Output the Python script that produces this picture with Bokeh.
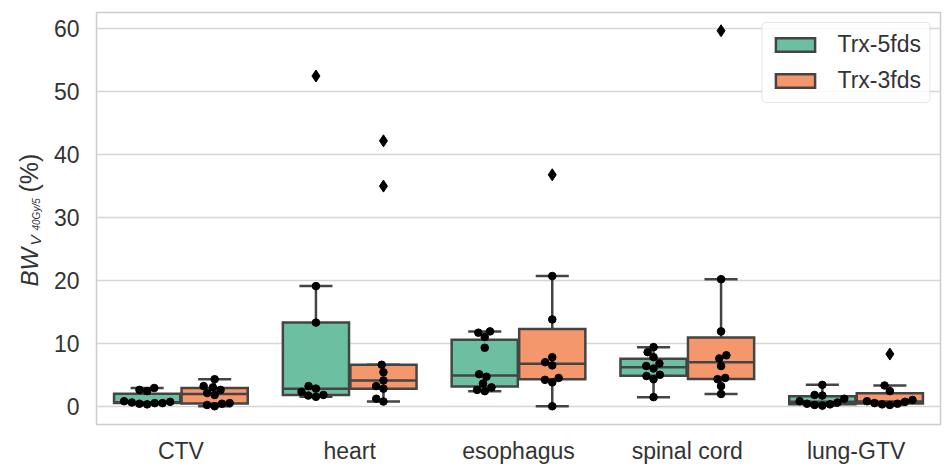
import numpy as np
from bokeh.plotting import figure
from bokeh.layouts import row
from bokeh.models import Range1d, FixedTicker, ColumnDataSource
from bokeh.core.properties import value
from bokeh.embed import file_html
from bokeh.resources import INLINE

# ---------------- data ----------------
categories = ["CTV", "heart", "esophagus", "spinal cord", "lung-GTV"]
series_names = ["Trx-5fds", "Trx-3fds"]
series_colors = ["#6cbfa0", "#f4976c"]

ctv_5fds = [0.3, 0.4, 0.5, 0.5, 0.6, 0.7, 0.8, 2.4, 2.6, 2.9]
ctv_3fds = [0.0, 0.2, 0.4, 0.5, 1.8, 2.1, 2.6, 3.0, 3.2, 4.3]
heart_5fds = [1.5, 1.7, 1.8, 2.3, 2.8, 3.2, 13.3, 19.1, 52.5]
heart_3fds = [0.75, 1.2, 2.8, 3.2, 4.1, 5.4, 6.6, 35.0, 42.2]
esoph_5fds = [2.4, 2.6, 3.0, 3.6, 4.7, 5.1, 9.3, 11.0, 11.7, 11.9]
esoph_3fds = [0.0, 3.8, 4.2, 4.5, 6.5, 7.0, 7.8, 13.8, 20.7, 36.8]
spinal_5fds = [1.45, 4.3, 4.8, 5.0, 6.0, 6.4, 6.8, 7.8, 8.6, 9.4]
spinal_3fds = [1.95, 3.2, 4.3, 4.5, 6.4, 7.6, 8.1, 11.9, 20.2, 59.7]
lung_5fds = [0.1, 0.2, 0.3, 0.4, 0.6, 0.8, 1.2, 1.7, 1.8, 3.4]
lung_3fds = [0.2, 0.3, 0.4, 0.5, 0.7, 0.8, 1.0, 2.4, 3.3, 8.3]

series_data = [
    [ctv_5fds, heart_5fds, esoph_5fds, spinal_5fds, lung_5fds],
    [ctv_3fds, heart_3fds, esoph_3fds, spinal_3fds, lung_3fds],
]
y_ticks = [0, 10, 20, 30, 40, 50, 60]

# ---------------- layout constants ----------------
FONT = "Liberation Sans"
TXT = "#333333"
EDGE = "#444444"
LAB_W = 50
FRAME_W, FRAME_H = 845, 412
ML, MR, MT, MB = 45, 3, 12, 44
W, H = ML + FRAME_W + MR, MT + FRAME_H + MB
x_lo, x_hi = -0.5, len(categories) - 0.5
y_lo, y_hi = -2.9, 62.6

# ---------------- y-axis title panel ----------------
# its frame is aligned with the main frame; ranges are in pixels (y measured from figure bottom)
lab = figure(width=LAB_W, height=H, x_range=Range1d(0, LAB_W), y_range=Range1d(MB, H - MT),
             x_axis_type=None, y_axis_type=None, output_backend="svg", toolbar_location=None,
             min_border_left=0, min_border_right=0, min_border_top=MT, min_border_bottom=MB)
lab.outline_line_color = None
lab.grid.grid_line_color = None
lab.background_fill_color = "white"
lab.border_fill_color = "white"
# BW_{V_{40Gy/5}} (%) : (text, x baseline px, y start px from bottom, size, style)
ylab_parts = [
    ("BW", 29, 182, "24px", "italic"),
    ("V", 35, 223, "15px", "italic"),
    ("40Gy/5", 36, 238, "10px", "italic"),
    ("(%)", 28, 276, "25px", "normal"),
]
for txt, lx, ly, fs, st in ylab_parts:
    lab.text(x=[lx], y=[ly], text=[txt], angle=np.pi / 2, text_align="left",
             text_baseline="alphabetic", text_font=value(FONT), text_font_size=value(fs),
             text_font_style=st, text_color=TXT)

# ---------------- main figure ----------------
p = figure(width=W, height=H, x_range=Range1d(x_lo, x_hi), y_range=Range1d(y_lo, y_hi),
           output_backend="svg", toolbar_location=None,
           min_border_left=ML, min_border_right=MR, min_border_top=MT, min_border_bottom=MB)
p.background_fill_color = "white"
p.border_fill_color = "white"
p.outline_line_color = "#cccccc"
p.outline_line_width = 1.5

p.xgrid.grid_line_color = None
p.ygrid.grid_line_color = "#d6d6d6"
p.ygrid.grid_line_width = 1.3

p.xaxis.ticker = FixedTicker(ticks=list(range(len(categories))))
p.xaxis.major_label_overrides = {i: c for i, c in enumerate(categories)}
p.yaxis.ticker = FixedTicker(ticks=y_ticks)
for ax in (p.xaxis, p.yaxis):
    ax.axis_line_color = None
    ax.major_tick_line_color = None
    ax.minor_tick_line_color = None
    ax.major_tick_out = 0
    ax.major_label_text_font = FONT
    ax.major_label_text_font_size = "23px"
    ax.major_label_text_color = TXT
p.xaxis.major_label_standoff = 13
p.yaxis.major_label_standoff = 17

# pixel scales (for swarm layout)
xs = FRAME_W / (x_hi - x_lo)
ys = FRAME_H / (y_hi - y_lo)
DOT = 7.6


def box_stats(v):
    v = np.asarray(v, float)
    q1, med, q3 = np.percentile(v, [25, 50, 75])
    iqr = q3 - q1
    lo = v[v >= q1 - 1.5 * iqr].min()
    hi = v[v <= q3 + 1.5 * iqr].max()
    out = v[(v < lo) | (v > hi)]
    inl = v[(v >= lo) & (v <= hi)]
    return q1, med, q3, lo, hi, out, inl


def swarm_offsets(vals):
    vals = np.asarray(vals, float)
    order = np.argsort(vals, kind="stable")
    placed = []
    offs = np.zeros(len(vals))
    d = DOT * 1.02
    for i in order:
        y = vals[i] * ys
        neigh = [(px, py) for px, py in placed if abs(py - y) < d]
        cands = [0.0]
        for px, py in neigh:
            dx = np.sqrt(max(d * d - (py - y) ** 2, 0.0))
            cands += [px + dx, px - dx]
        cands = sorted(cands, key=lambda c: (abs(c), c))
        chosen = cands[-1]
        for c in cands:
            if all((c - px) ** 2 + (y - py) ** 2 >= d * d - 1e-6 for px, py in neigh):
                chosen = c
                break
        placed.append((chosen, y))
        offs[i] = chosen
    return offs / xs


n_s = len(series_names)
box_w = 0.8 / n_s * 0.98
for j, (name, color, data) in enumerate(zip(series_names, series_colors, series_data)):
    xc = [i - 0.4 + 0.8 / n_s * (j + 0.5) for i in range(len(categories))]
    q1s, meds, q3s, los, his = [], [], [], [], []
    dot_x, dot_y, out_x, out_y = [], [], [], []
    for x0, vals in zip(xc, data):
        q1, med, q3, lo, hi, out, inl = box_stats(vals)
        q1s.append(q1); meds.append(med); q3s.append(q3); los.append(lo); his.append(hi)
        offs = swarm_offsets(inl)
        dot_x += list(x0 + offs); dot_y += list(inl)
        out_x += [x0] * len(out); out_y += list(out)
    src = ColumnDataSource(dict(x=xc, q1=q1s, med=meds, q3=q3s, lo=los, hi=his,
                                xl=[x - box_w / 2 for x in xc], xr=[x + box_w / 2 for x in xc],
                                cl=[x - box_w / 4 for x in xc], cr=[x + box_w / 4 for x in xc]))
    # whiskers
    p.segment(x0="x", x1="x", y0="q3", y1="hi", source=src, line_color=EDGE, line_width=2.5)
    p.segment(x0="x", x1="x", y0="q1", y1="lo", source=src, line_color=EDGE, line_width=2.5)
    p.segment(x0="cl", x1="cr", y0="hi", y1="hi", source=src, line_color=EDGE, line_width=2.5)
    p.segment(x0="cl", x1="cr", y0="lo", y1="lo", source=src, line_color=EDGE, line_width=2.5)
    # boxes
    p.vbar(x="x", width=box_w, top="q3", bottom="q1", source=src, fill_color=color,
           line_color=EDGE, line_width=2.5, line_join="miter", legend_label=name)
    p.segment(x0="xl", x1="xr", y0="med", y1="med", source=src, line_color=EDGE, line_width=2.5)
    # points
    p.scatter(x=dot_x, y=dot_y, size=DOT, color="black")
    p.scatter(x=out_x, y=out_y, size=12, marker="diamond", color="black")

# legend
lg = p.legend[0]
lg.location = "top_right"
lg.margin = 10
lg.padding = 8
lg.spacing = 9
lg.glyph_width = 49
lg.glyph_height = 17
lg.label_height = 26
lg.label_standoff = 18
lg.label_text_font = FONT
lg.label_text_font_size = "23px"
lg.label_text_color = TXT
lg.border_line_color = "#cccccc"
lg.border_line_width = 1.2
lg.border_radius = 5
lg.background_fill_color = "white"
lg.background_fill_alpha = 0.85

layout = row(lab, p, spacing=0)
open("out.html", "w").write(file_html(layout, INLINE))
